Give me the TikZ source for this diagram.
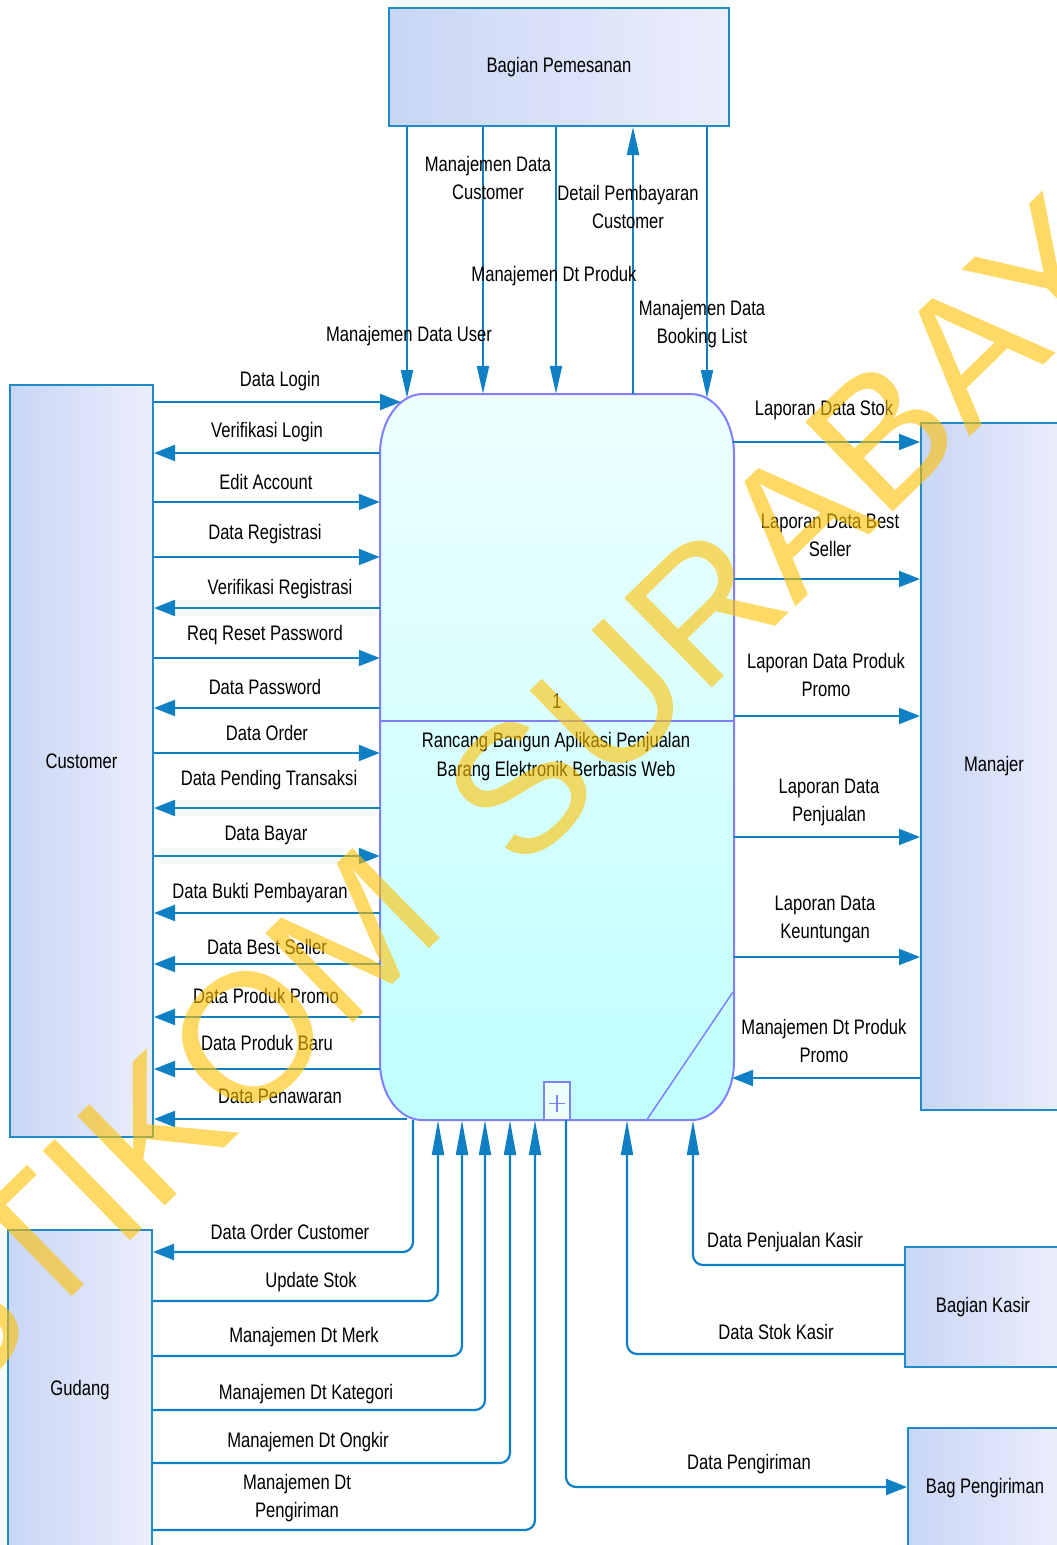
\documentclass[tikz,border=0pt]{standalone}
\usepackage{fontspec}
\setmainfont{Liberation Sans}[FakeStretch=0.79]
\newfontfamily\wmfont{Liberation Sans}
\usetikzlibrary{arrows.meta}
\definecolor{lc}{RGB}{16,128,196}
\definecolor{eb}{RGB}{30,140,200}
\definecolor{entA}{RGB}{200,214,245}
\definecolor{entB}{RGB}{236,238,252}
\definecolor{pb}{RGB}{128,128,255}
\definecolor{pA}{RGB}{238,255,255}
\definecolor{pB}{RGB}{192,255,255}
\definecolor{wm}{RGB}{255,192,0}
\newcommand\labfont{\fontsize{21}{28}\selectfont}
\tikzset{
 ent/.style={draw=eb, line width=2pt, left color=entA, right color=entB, inner sep=0pt, font=\labfont},
 lab/.style={font=\labfont, inner sep=0pt, align=center},
 flow/.style={draw=lc, line width=2.2pt},
 hx/.style={-{Triangle[length=21pt,width=16pt]}},
 vx/.style={-{Triangle[length=28pt,width=12pt]}},
 vb/.style={-{Triangle[length=35pt,width=12pt]}},
 wmark/.style={text=wm, opacity=0.6, inner sep=0pt, rotate=44.3, font=\wmfont\fontsize{182}{182}\selectfont},
}
\begin{document}
\begin{tikzpicture}[x=1pt,y=-1pt]
\useasboundingbox (0,0) rectangle (1057,1545);

% process
\node[minimum width=354pt, minimum height=726pt, inner sep=0pt] (proc) at (557,757) {};
\draw[draw=pb, line width=2pt, top color=pA, bottom color=pB]
 (423,394) -- (691,394) .. controls (714.7,394) and (734,420.9) .. (734,454)
 -- (734,1062) .. controls (734,1094) and (715.2,1120) .. (692,1120)
 -- (422,1120) .. controls (398.8,1120) and (380,1094) .. (380,1062)
 -- (380,454) .. controls (380,420.9) and (399.3,394) .. (423,394) -- cycle;
\draw[pb, line width=2pt] (proc.west |- 0,721) -- (proc.east |- 0,721);
\draw[pb, line width=1.5pt] (733,992) -- (646,1121);
\draw[pb, line width=1.5pt, fill=pA] (544,1082) rectangle (570,1120);
\draw[pb, line width=1.5pt] (557,1095) -- (557,1112) (549,1103.5) -- (565,1103.5);
\node[lab] (pnum) at (557,701) {1};
\node[lab, font=\fontsize{21}{29}\selectfont] (ptitle) at (556,757) {Rancang Bangun Aplikasi Penjualan\\Barang Elektronik Berbasis Web};

% entities
\node[ent, minimum width=340pt, minimum height=118pt] (pem) at (559,67) {Bagian Pemesanan};
\node[ent, minimum width=143pt, minimum height=752pt] (cust) at (81.5,761) {Customer};
\node[ent, minimum width=146pt, minimum height=687pt] (man) at (994,766.5) {Manajer};
\node[ent, minimum width=144pt, minimum height=320pt] (gud) at (80,1390) {Gudang};
\node[ent, minimum width=156pt, minimum height=120pt] (kasir) at (983,1307) {Bagian Kasir};
\node[ent, minimum width=154pt, minimum height=120pt] (kirim) at (985,1488) {Bag Pengiriman};

% special end points on the rounded outline
\coordinate (tUser) at (407,398);
\coordinate (tBook) at (707,398);
\coordinate (tLogin) at (401,402);
\coordinate (tStok) at (733,442);
\coordinate (tPromo) at (732,1078);
\coordinate (tPen) at (407,1119);

% top flows
\draw[flow,vx] (pem.south -| 407,0) -- (tUser);
\draw[flow,vx] (pem.south -| 483,0) -- (proc.north -| 483,0);
\draw[flow,vx] (pem.south -| 556,0) -- (proc.north -| 556,0);
\draw[flow,vx] (proc.north -| 633,0) -- (pem.south -| 633,0);
\draw[flow,vx] (pem.south -| 707,0) -- (tBook);
\node[lab] (t1) at (409,336) {Manajemen Data User};
\node[lab] (t2) at (488,178) {Manajemen Data\\Customer};
\node[lab] (t3) at (554,276) {Manajemen Dt Produk};
\node[lab] (t4) at (628,207) {Detail Pembayaran\\Customer};
\node[lab] (t5) at (702,324) {Manajemen Data\\Booking List};

% customer flows
\draw[flow,hx] (cust.east |- 0,402) -- (tLogin);
\draw[flow,hx] (proc.west |- 0,453) -- (cust.east |- 0,453);
\draw[flow,hx] (cust.east |- 0,502) -- (proc.west |- 0,502);
\draw[flow,hx] (cust.east |- 0,557) -- (proc.west |- 0,557);
\draw[flow,hx] (proc.west |- 0,608) -- (cust.east |- 0,608);
\draw[flow,hx] (cust.east |- 0,658) -- (proc.west |- 0,658);
\draw[flow,hx] (proc.west |- 0,708) -- (cust.east |- 0,708);
\draw[flow,hx] (cust.east |- 0,753) -- (proc.west |- 0,753);
\draw[flow,hx] (proc.west |- 0,808) -- (cust.east |- 0,808);
\draw[flow,hx] (cust.east |- 0,856) -- (proc.west |- 0,856);
\draw[flow,hx] (proc.west |- 0,913) -- (cust.east |- 0,913);
\draw[flow,hx] (proc.west |- 0,964) -- (cust.east |- 0,964);
\draw[flow,hx] (proc.west |- 0,1017) -- (cust.east |- 0,1017);
\draw[flow,hx] (proc.west |- 0,1069) -- (cust.east |- 0,1069);
\draw[flow,hx] (tPen) -- (cust.east |- 0,1119);
\node[lab] (c1) at (280,381) {Data Login};
\node[lab] (c2) at (267,432) {Verifikasi Login};
\node[lab] (c3) at (266,482) {Edit Account};
\node[lab] (c4) at (265,534) {Data Registrasi};
\node[lab] (c5) at (280,589) {Verifikasi Registrasi};
\node[lab] (c6) at (265,635) {Req Reset Password};
\node[lab] (c7) at (265,687) {Data Password};
\node[lab] (c8) at (267,733) {Data Order};
\node[lab] (c9) at (269,780) {Data Pending Transaksi};
\node[lab] (c10) at (266,835) {Data Bayar};
\node[lab] (c11) at (260,893) {Data Bukti Pembayaran};
\node[lab] (c12) at (267,947) {Data Best Seller};
\node[lab] (c13) at (266,996) {Data Produk Promo};
\node[lab] (c14) at (267,1043) {Data Produk Baru};
\node[lab] (c15) at (280,1096) {Data Penawaran};

% manajer flows
\draw[flow,hx] (tStok) -- (man.west |- 0,442);
\draw[flow,hx] (proc.east |- 0,579) -- (man.west |- 0,579);
\draw[flow,hx] (proc.east |- 0,716) -- (man.west |- 0,716);
\draw[flow,hx] (proc.east |- 0,837) -- (man.west |- 0,837);
\draw[flow,hx] (proc.east |- 0,957) -- (man.west |- 0,957);
\draw[flow,hx] (man.west |- 0,1078) -- (tPromo);
\node[lab] (m1) at (824,410) {Laporan Data Stok};
\node[lab] (m2) at (830,535) {Laporan Data Best\\Seller};
\node[lab] (m3) at (826,675) {Laporan Data Produk\\Promo};
\node[lab] (m4) at (829,802) {Laporan Data\\Penjualan};
\node[lab] (m5) at (825,919) {Laporan Data\\Keuntungan};
\node[lab] (m6) at (824,1041) {Manajemen Dt Produk\\Promo};

% gudang flows
\draw[flow,hx,rounded corners=10pt] (proc.south -| 413,0) -- (413,1252) -- (gud.east |- 0,1252);
\draw[flow,vb,rounded corners=10pt] (gud.east |- 0,1301) -- (438,1301) -- (proc.south -| 438,0);
\draw[flow,vb,rounded corners=10pt] (gud.east |- 0,1356) -- (462,1356) -- (proc.south -| 462,0);
\draw[flow,vb,rounded corners=10pt] (gud.east |- 0,1410) -- (485,1410) -- (proc.south -| 485,0);
\draw[flow,vb,rounded corners=10pt] (gud.east |- 0,1463) -- (510,1463) -- (proc.south -| 510,0);
\draw[flow,vb,rounded corners=10pt] (gud.east |- 0,1530) -- (535,1530) -- (proc.south -| 535,0);
\node[lab] (g1) at (290,1232) {Data Order Customer};
\node[lab] (g2) at (311,1282) {Update Stok};
\node[lab] (g3) at (304,1337) {Manajemen Dt Merk};
\node[lab] (g4) at (306,1394) {Manajemen Dt Kategori};
\node[lab] (g5) at (308,1442) {Manajemen Dt Ongkir};
\node[lab] (g6) at (297,1498) {Manajemen Dt\\Pengiriman};

% kasir / pengiriman flows
\draw[flow,hx,rounded corners=10pt] (proc.south -| 566,0) -- (566,1487) -- (kirim.west |- 0,1487);
\draw[flow,vb,rounded corners=10pt] (kasir.west |- 0,1354) -- (627,1354) -- (proc.south -| 627,0);
\draw[flow,vb,rounded corners=10pt] (kasir.west |- 0,1265) -- (693,1265) -- (proc.south -| 693,0);
\node[lab] (k1) at (785,1242) {Data Penjualan Kasir};
\node[lab] (k2) at (776,1332) {Data Stok Kasir};
\node[lab] (k3) at (749,1464) {Data Pengiriman};

% watermark
\node[wmark] (wm1) at (158,1126) {STIKOM};
\node[wmark] (wm2) at (822,494) {SURABAYA};
\end{tikzpicture}
\end{document}
